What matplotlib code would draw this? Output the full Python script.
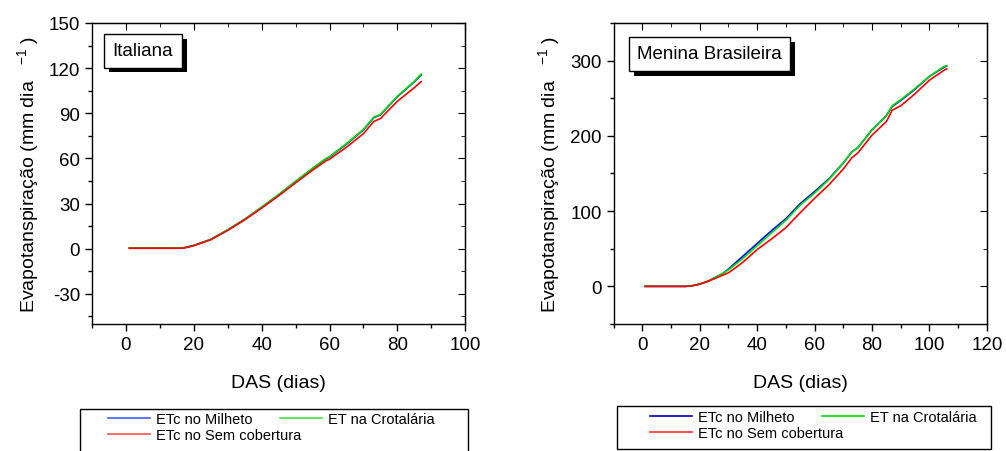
import numpy as np
import matplotlib
matplotlib.use("Agg")
import matplotlib.pyplot as plt
from matplotlib.ticker import MultipleLocator
from matplotlib.lines import Line2D
from matplotlib.patches import Rectangle
import matplotlib.patheffects as pe

plt.rcParams['font.family'] = ['Liberation Sans', 'DejaVu Sans']
plt.rcParams['mathtext.fontset'] = 'custom'
plt.rcParams['mathtext.rm'] = 'Liberation Sans'
plt.rcParams['mathtext.it'] = 'Liberation Sans'
plt.rcParams['axes.unicode_minus'] = False

# Italiana
das_it = [1, 5, 10, 15, 17, 20, 25, 30, 35, 40, 45, 50, 55, 59, 60, 65, 70, 73, 75, 80, 85, 87]
milheto_it = [0.5, 0.5, 0.4, 0.5, 0.6, 2.2, 6.2, 12.5, 19.5, 27.5, 35.8, 44.6, 53.2, 59.8, 61.0, 69.5, 79.0, 87.0, 89.0, 101.0, 111.0, 115.5]
crot_it = [0.5, 0.5, 0.4, 0.5, 0.6, 2.2, 6.2, 12.6, 19.6, 27.7, 36.0, 44.8, 53.5, 60.0, 61.2, 69.8, 79.3, 87.3, 89.2, 101.3, 111.2, 116.0]
sem_it = [0.3, 0.3, 0.3, 0.3, 0.4, 2.0, 6.0, 12.2, 19.2, 27.0, 35.2, 43.8, 52.2, 58.5, 59.5, 67.5, 76.5, 84.5, 86.5, 98.0, 107.0, 111.0]

# Menina Brasileira
das_mb = [1, 5, 10, 15, 17, 20, 23, 25, 28, 30, 35, 40, 45, 50, 55, 60, 65, 70, 73, 75, 80, 85, 87, 90, 95, 100, 105, 106]
milheto_mb = [0, 0, 0, 0, 0.5, 3, 7, 11, 17, 23, 40, 57, 74, 90, 110, 126, 143, 164, 179, 184, 208, 227, 239, 247, 262, 279, 291, 293]
crot_mb = [0, 0, 0, 0, 0.5, 3, 7, 11, 17, 22, 37, 54, 71, 88, 108, 124, 142, 164, 179, 184, 208, 227, 240, 248, 263, 279, 292, 293]
sem_mb = [0, 0, 0, 0, 0.5, 3, 7, 10, 15, 18, 32, 49, 63, 78, 98, 117, 135, 156, 171, 177, 201, 219, 234, 240, 256, 274, 287, 289]

labels = ["ETc no Milheto", "ET na Crotalária", "ETc no Sem cobertura"]
colors = ["#0000ff", "#00dd00", "#ff0000"]

fig = plt.figure(figsize=(10.06, 4.52), dpi=100)
ax1 = fig.add_axes([0.0915, 0.281, 0.371, 0.666])
ax2 = fig.add_axes([0.610, 0.281, 0.371, 0.666])

ylab = r"Evapotanspiração (mm dia   $^{\mathrm{-1}}$ )"


def style(ax, xlim, ylim, xmaj, ymaj):
    ax.set_xlim(*xlim)
    ax.set_ylim(*ylim)
    ax.xaxis.set_major_locator(MultipleLocator(xmaj))
    ax.xaxis.set_minor_locator(MultipleLocator(xmaj / 2))
    ax.yaxis.set_major_locator(MultipleLocator(ymaj))
    ax.yaxis.set_minor_locator(MultipleLocator(ymaj / 2))
    ax.tick_params(which='major', direction='out', length=5, width=1, labelsize=13.5)
    ax.tick_params(which='minor', direction='out', length=3, width=1)
    for s in ax.spines.values():
        s.set_linewidth(1)
    # mirrored ticks, pointing in
    top = ax.secondary_xaxis('top')
    top.xaxis.set_major_locator(MultipleLocator(xmaj))
    top.xaxis.set_minor_locator(MultipleLocator(xmaj / 2))
    top.tick_params(which='major', direction='in', length=5, labeltop=False)
    top.tick_params(which='minor', direction='in', length=3)
    right = ax.secondary_yaxis('right')
    right.yaxis.set_major_locator(MultipleLocator(ymaj))
    right.yaxis.set_minor_locator(MultipleLocator(ymaj / 2))
    right.tick_params(which='major', direction='in', length=5, labelright=False)
    right.tick_params(which='minor', direction='in', length=3)
    ax.set_xlabel("DAS (dias)", fontsize=14, labelpad=15)
    ax.set_ylabel(ylab, fontsize=14, labelpad=6)


def label_box(ax, x, y, txt):
    t = ax.text(x, y, txt, transform=ax.transAxes, fontsize=13.5, ha='left', va='center',
                bbox=dict(boxstyle='square,pad=0.45', fc='white', ec='black', lw=1))
    t.get_bbox_patch().set_path_effects([
        pe.SimplePatchShadow(offset=(3.5, -3.5), shadow_rgbFace='black', alpha=1.0),
        pe.Normal()])


for ax, x, series in [(ax1, das_it, [milheto_it, crot_it, sem_it]),
                      (ax2, das_mb, [milheto_mb, crot_mb, sem_mb])]:
    for y, c in zip(series, colors):
        ax.plot(x, y, color=c, lw=1.2)

style(ax1, (-10, 100), (-50, 150), 20, 30)
style(ax2, (-10, 120), (-50, 350), 20, 100)

label_box(ax1, 0.055, 0.908, "Italiana")
label_box(ax2, 0.063, 0.897, "Menina Brasileira")

# legends below each panel
leg_colors = [["#4060ff", "#40e040", "#ff5050"], ["#0000c0", "#00dd00", "#ff3030"]]
boxes = [(80, 410, 388, 60), (617, 407, 374, 43)]
anchors = [(108, 413), (650, 411)]
for (bx, by, bw, bh), (axp, ayp), lc in zip(boxes, anchors, leg_colors):
    fig.patches.append(Rectangle((bx / 1006, 1 - (by + bh) / 452), bw / 1006, bh / 452,
                                 transform=fig.transFigure, fc='white', ec='black', lw=1))
    h = [Line2D([], [], color=lc[0], lw=1.2), Line2D([], [], color=lc[2], lw=1.2),
         Line2D([], [], color=lc[1], lw=1.2)]
    fig.legend(h, [labels[0], labels[2], labels[1]], ncol=2, frameon=False,
               loc='upper left', bbox_to_anchor=(axp / 1006, 1 - ayp / 452),
               fontsize=10.5, handlelength=2.9, handletextpad=0.4,
               columnspacing=-1.5, labelspacing=0.15, borderpad=0, borderaxespad=0)

fig.savefig("out.png", dpi=100)
